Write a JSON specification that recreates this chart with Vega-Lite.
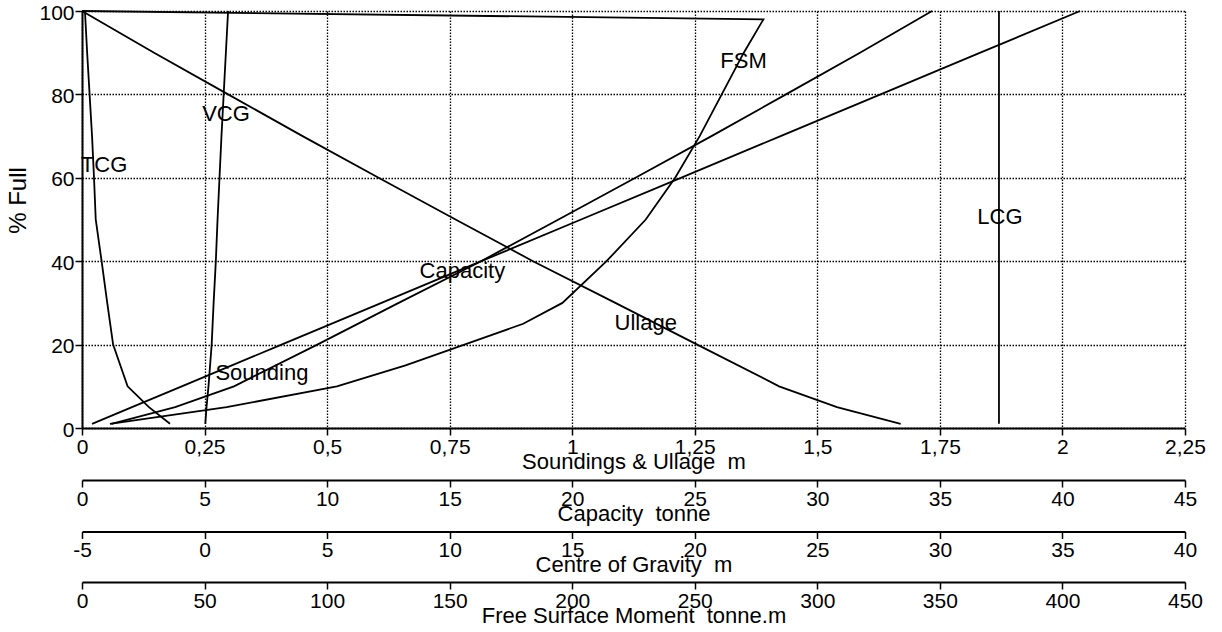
{
  "$schema": "https://vega.github.io/schema/vega-lite/v6.json",
  "width": 1103,
  "height": 417,
  "autosize": {"type": "none"},
  "padding": {"left": 82, "top": 11, "right": 37, "bottom": 204},
  "background": "white",
  "datasets": {
    "curves": [
      {"series": "Sounding", "pct": 1, "value": 0.06},
      {"series": "Sounding", "pct": 5, "value": 0.19},
      {"series": "Sounding", "pct": 10, "value": 0.31},
      {"series": "Sounding", "pct": 20, "value": 0.48},
      {"series": "Sounding", "pct": 30, "value": 0.646},
      {"series": "Sounding", "pct": 40, "value": 0.814},
      {"series": "Sounding", "pct": 50, "value": 0.972},
      {"series": "Sounding", "pct": 60, "value": 1.129},
      {"series": "Sounding", "pct": 70, "value": 1.284},
      {"series": "Sounding", "pct": 80, "value": 1.436},
      {"series": "Sounding", "pct": 90, "value": 1.587},
      {"series": "Sounding", "pct": 100, "value": 1.734},
      {"series": "Ullage", "pct": 1, "value": 1.67},
      {"series": "Ullage", "pct": 5, "value": 1.54},
      {"series": "Ullage", "pct": 10, "value": 1.422},
      {"series": "Ullage", "pct": 20, "value": 1.255},
      {"series": "Ullage", "pct": 30, "value": 1.088},
      {"series": "Ullage", "pct": 40, "value": 0.92},
      {"series": "Ullage", "pct": 50, "value": 0.762},
      {"series": "Ullage", "pct": 60, "value": 0.605},
      {"series": "Ullage", "pct": 70, "value": 0.45},
      {"series": "Ullage", "pct": 80, "value": 0.298},
      {"series": "Ullage", "pct": 90, "value": 0.147},
      {"series": "Ullage", "pct": 100, "value": 0},
      {"series": "Capacity", "pct": 1, "value": 0.41},
      {"series": "Capacity", "pct": 5, "value": 2.04},
      {"series": "Capacity", "pct": 10, "value": 4.07},
      {"series": "Capacity", "pct": 20, "value": 8.14},
      {"series": "Capacity", "pct": 30, "value": 12.22},
      {"series": "Capacity", "pct": 40, "value": 16.29},
      {"series": "Capacity", "pct": 50, "value": 20.36},
      {"series": "Capacity", "pct": 60, "value": 24.43},
      {"series": "Capacity", "pct": 70, "value": 28.5},
      {"series": "Capacity", "pct": 80, "value": 32.58},
      {"series": "Capacity", "pct": 90, "value": 36.65},
      {"series": "Capacity", "pct": 100, "value": 40.72},
      {"series": "VCG", "pct": 1, "value": 0.03},
      {"series": "VCG", "pct": 5, "value": 0.08},
      {"series": "VCG", "pct": 10, "value": 0.16},
      {"series": "VCG", "pct": 20, "value": 0.29},
      {"series": "VCG", "pct": 30, "value": 0.37},
      {"series": "VCG", "pct": 40, "value": 0.46},
      {"series": "VCG", "pct": 50, "value": 0.53},
      {"series": "VCG", "pct": 60, "value": 0.61},
      {"series": "VCG", "pct": 70, "value": 0.69},
      {"series": "VCG", "pct": 80, "value": 0.78},
      {"series": "VCG", "pct": 90, "value": 0.87},
      {"series": "VCG", "pct": 100, "value": 0.96},
      {"series": "TCG", "pct": 1, "value": -1.41},
      {"series": "TCG", "pct": 5, "value": -2.27},
      {"series": "TCG", "pct": 10, "value": -3.14},
      {"series": "TCG", "pct": 20, "value": -3.73},
      {"series": "TCG", "pct": 30, "value": -3.97},
      {"series": "TCG", "pct": 40, "value": -4.2},
      {"series": "TCG", "pct": 50, "value": -4.44},
      {"series": "TCG", "pct": 60, "value": -4.51},
      {"series": "TCG", "pct": 70, "value": -4.59},
      {"series": "TCG", "pct": 80, "value": -4.69},
      {"series": "TCG", "pct": 90, "value": -4.79},
      {"series": "TCG", "pct": 100, "value": -4.88},
      {"series": "LCG", "pct": 1, "value": 32.41},
      {"series": "LCG", "pct": 100, "value": 32.41},
      {"series": "FSM", "pct": 1, "value": 11.4},
      {"series": "FSM", "pct": 5, "value": 59},
      {"series": "FSM", "pct": 10, "value": 104},
      {"series": "FSM", "pct": 15, "value": 132},
      {"series": "FSM", "pct": 20, "value": 156},
      {"series": "FSM", "pct": 25, "value": 180},
      {"series": "FSM", "pct": 30, "value": 196},
      {"series": "FSM", "pct": 40, "value": 214},
      {"series": "FSM", "pct": 50, "value": 230},
      {"series": "FSM", "pct": 60, "value": 242},
      {"series": "FSM", "pct": 70, "value": 252},
      {"series": "FSM", "pct": 80, "value": 261},
      {"series": "FSM", "pct": 90, "value": 270},
      {"series": "FSM", "pct": 98, "value": 278},
      {"series": "FSM", "pct": 100, "value": 0}
    ],
    "labels": [
      {"series": "Sounding", "pct": 13.2, "value": 0.367},
      {"series": "Ullage", "pct": 25.2, "value": 1.15},
      {"series": "Capacity", "pct": 37.7, "value": 15.52},
      {"series": "TCG", "pct": 63.1, "value": -4.1},
      {"series": "VCG", "pct": 75.4, "value": 0.875},
      {"series": "LCG", "pct": 50.6, "value": 32.45},
      {"series": "FSM", "pct": 87.9, "value": 269.9}
    ]
  },
  "encoding": {
    "y": {
      "field": "pct",
      "type": "quantitative",
      "scale": {"domain": [0, 100], "nice": false, "zero": false},
      "axis": {
        "values": [0, 20, 40, 60, 80, 100],
        "grid": true,
        "title": "% Full",
        "titleFontSize": 24,
        "tickSize": 7,
        "labelPadding": 1,
        "labelOffset": 2,
        "titleX": -64,
        "titleY": 189,
        "titleAlign": "center",
        "titleBaseline": "middle"
      }
    }
  },
  "layer": [
    {
      "encoding": {
        "x": {
          "field": "value",
          "type": "quantitative",
          "scale": {"domain": [0, 2.25], "nice": false, "zero": false},
          "axis": {
            "orient": "bottom",
            "offset": 0,
            "values": [0, 0.25, 0.5, 0.75, 1, 1.25, 1.5, 1.75, 2, 2.25],
            "labelExpr": "replace(toString(datum.value), '.', ',')",
            "grid": true,
            "title": "Soundings & Ullage\u00a0 m"
          }
        }
      },
      "layer": [
        {
          "data": {"name": "curves"},
          "transform": [{"filter": {"field": "series", "oneOf": ["Sounding", "Ullage"]}}],
          "mark": {"type": "line", "color": "black", "strokeWidth": 1.8},
          "encoding": {"detail": {"field": "series"}, "order": {"field": "pct"}}
        },
        {
          "data": {"name": "labels"},
          "transform": [{"filter": {"field": "series", "oneOf": ["Sounding", "Ullage"]}}],
          "mark": {"type": "text"},
          "encoding": {"text": {"field": "series"}}
        }
      ]
    },
    {
      "encoding": {
        "x": {
          "field": "value",
          "type": "quantitative",
          "scale": {"domain": [0, 45], "nice": false, "zero": false},
          "axis": {
            "orient": "bottom",
            "offset": 52,
            "values": [0, 5, 10, 15, 20, 25, 30, 35, 40, 45],
            "labelExpr": "toString(datum.value)",
            "grid": false,
            "title": "Capacity\u00a0 tonne"
          }
        }
      },
      "layer": [
        {
          "data": {"name": "curves"},
          "transform": [{"filter": {"field": "series", "equal": "Capacity"}}],
          "mark": {"type": "line", "color": "black", "strokeWidth": 1.8},
          "encoding": {"order": {"field": "pct"}}
        },
        {
          "data": {"name": "labels"},
          "transform": [{"filter": {"field": "series", "equal": "Capacity"}}],
          "mark": {"type": "text"},
          "encoding": {"text": {"field": "series"}}
        }
      ]
    },
    {
      "encoding": {
        "x": {
          "field": "value",
          "type": "quantitative",
          "scale": {"domain": [-5, 40], "nice": false, "zero": false},
          "axis": {
            "orient": "bottom",
            "offset": 103.5,
            "values": [-5, 0, 5, 10, 15, 20, 25, 30, 35, 40],
            "labelExpr": "toString(datum.value)",
            "grid": false,
            "title": "Centre of Gravity\u00a0 m"
          }
        }
      },
      "layer": [
        {
          "data": {"name": "curves"},
          "transform": [{"filter": {"field": "series", "oneOf": ["VCG", "TCG", "LCG"]}}],
          "mark": {"type": "line", "color": "black", "strokeWidth": 1.8},
          "encoding": {"detail": {"field": "series"}, "order": {"field": "pct"}}
        },
        {
          "data": {"name": "labels"},
          "transform": [{"filter": {"field": "series", "oneOf": ["VCG", "TCG", "LCG"]}}],
          "mark": {"type": "text"},
          "encoding": {"text": {"field": "series"}}
        }
      ]
    },
    {
      "encoding": {
        "x": {
          "field": "value",
          "type": "quantitative",
          "scale": {"domain": [0, 450], "nice": false, "zero": false},
          "axis": {
            "orient": "bottom",
            "offset": 154,
            "values": [0, 50, 100, 150, 200, 250, 300, 350, 400, 450],
            "labelExpr": "toString(datum.value)",
            "grid": false,
            "title": "Free Surface Moment\u00a0 tonne.m"
          }
        }
      },
      "layer": [
        {
          "data": {"name": "curves"},
          "transform": [{"filter": {"field": "series", "equal": "FSM"}}],
          "mark": {"type": "line", "color": "black", "strokeWidth": 1.8},
          "encoding": {"order": {"field": "pct"}}
        },
        {
          "data": {"name": "labels"},
          "transform": [{"filter": {"field": "series", "equal": "FSM"}}],
          "mark": {"type": "text"},
          "encoding": {"text": {"field": "series"}}
        }
      ]
    }
  ],
  "resolve": {"scale": {"x": "independent"}, "axis": {"x": "independent"}},
  "config": {
    "view": {"stroke": null},
    "axis": {
      "labelFont": "Liberation Sans",
      "titleFont": "Liberation Sans",
      "labelFontSize": 21,
      "titleFontSize": 22,
      "titleFontWeight": "normal",
      "labelColor": "black",
      "titleColor": "black",
      "domainColor": "black",
      "domainWidth": 2,
      "tickColor": "black",
      "tickWidth": 1.5,
      "tickSize": 7,
      "gridColor": "black",
      "gridOpacity": 1,
      "gridWidth": 1.3,
      "gridDash": [1.5, 1.5],
      "labelFlush": false,
      "labelOverlap": false
    },
    "axisX": {
      "labelBaseline": "alphabetic",
      "labelPadding": 18,
      "titleBaseline": "alphabetic",
      "titleY": 40
    },
    "text": {
      "font": "Liberation Sans",
      "fontSize": 22,
      "color": "black",
      "align": "center",
      "baseline": "middle"
    }
  }
}
